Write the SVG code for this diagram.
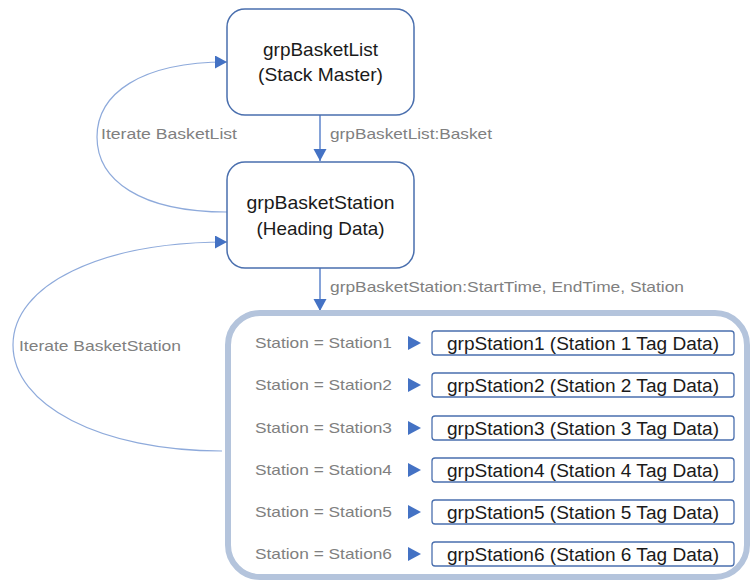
<svg xmlns="http://www.w3.org/2000/svg" width="754" height="583" viewBox="0 0 754 583">
<style>
.box{fill:#fff;stroke:#4a6fae;stroke-width:1.5}
.sbox{fill:#fff;stroke:#4a6fae;stroke-width:1.3}
.t{font-family:"Liberation Sans",Arial,sans-serif;fill:#1a1a1a;text-anchor:middle}
.g{font-family:"Liberation Sans",Arial,sans-serif;fill:#808080;font-size:15px}
.main{stroke:#4472c4;stroke-width:1.3;fill:none}
.loop{stroke:#8eaadb;stroke-width:1.2;fill:none}
.tri{fill:#4472c4}
</style>
<defs>
<marker id="ah" markerUnits="userSpaceOnUse" markerWidth="14" markerHeight="14" refX="12" refY="6.5" orient="auto">
<path d="M0,0 L12,6.5 L0,13 Z" fill="#4472c4"/>
</marker>
</defs>
<g id="connectors">
<line class="main" x1="320" y1="115" x2="320" y2="161" marker-end="url(#ah)"/>
<line class="main" x1="320" y1="268" x2="320" y2="311" marker-end="url(#ah)"/>
<path class="loop" d="M227,212 C140,212 97,180 97,137 C97,94 140,62 227,62" marker-end="url(#ah)"/>
<path class="loop" d="M222,451 C100,451 13,405 13,345 C13,285 100,242 227,242" marker-end="url(#ah)"/>
<text class="g" x="330" y="139" textLength="162" lengthAdjust="spacingAndGlyphs">grpBasketList:Basket</text>
<text class="g" x="101" y="139" textLength="136" lengthAdjust="spacingAndGlyphs">Iterate BasketList</text>
<text class="g" x="19" y="351" textLength="162" lengthAdjust="spacingAndGlyphs">Iterate BasketStation</text>
<text class="g" x="330" y="292" textLength="354" lengthAdjust="spacingAndGlyphs">grpBasketStation:StartTime, EndTime, Station</text>
</g>
<g id="grpBasketList">
<rect class="box" x="227" y="9" width="187" height="106" rx="18"/>
<text class="t" x="320.5" y="56" font-size="19" textLength="115" lengthAdjust="spacingAndGlyphs">grpBasketList</text>
<text class="t" x="320.5" y="81" font-size="19" textLength="125" lengthAdjust="spacingAndGlyphs">(Stack Master)</text>
</g>
<g id="grpBasketStation">
<rect class="box" x="227" y="162" width="187" height="106" rx="18"/>
<text class="t" x="320.5" y="209" font-size="19" textLength="148" lengthAdjust="spacingAndGlyphs">grpBasketStation</text>
<text class="t" x="320.5" y="235" font-size="19" textLength="128" lengthAdjust="spacingAndGlyphs">(Heading Data)</text>
</g>
<g id="stations">
<rect x="228" y="313" width="519" height="264" rx="32" fill="#fff" stroke="#b4c4dc" stroke-width="6"/>
<g id="station1">
<text class="g" x="255" y="348" textLength="137" lengthAdjust="spacingAndGlyphs">Station = Station1</text>
<path class="tri" d="M408,336 L421,343 L408,350 Z"/>
<rect class="sbox" x="432" y="331" width="302" height="24" rx="3"/>
<text class="t" x="583" y="349.5" font-size="18" textLength="272" lengthAdjust="spacingAndGlyphs">grpStation1 (Station 1 Tag Data)</text>
</g>
<g id="station2">
<text class="g" x="255" y="390" textLength="137" lengthAdjust="spacingAndGlyphs">Station = Station2</text>
<path class="tri" d="M408,378 L421,385 L408,392 Z"/>
<rect class="sbox" x="432" y="373" width="302" height="24" rx="3"/>
<text class="t" x="583" y="391.5" font-size="18" textLength="272" lengthAdjust="spacingAndGlyphs">grpStation2 (Station 2 Tag Data)</text>
</g>
<g id="station3">
<text class="g" x="255" y="433" textLength="137" lengthAdjust="spacingAndGlyphs">Station = Station3</text>
<path class="tri" d="M408,421 L421,428 L408,435 Z"/>
<rect class="sbox" x="432" y="416" width="302" height="24" rx="3"/>
<text class="t" x="583" y="434.5" font-size="18" textLength="272" lengthAdjust="spacingAndGlyphs">grpStation3 (Station 3 Tag Data)</text>
</g>
<g id="station4">
<text class="g" x="255" y="475" textLength="137" lengthAdjust="spacingAndGlyphs">Station = Station4</text>
<path class="tri" d="M408,463 L421,470 L408,477 Z"/>
<rect class="sbox" x="432" y="458" width="302" height="24" rx="3"/>
<text class="t" x="583" y="476.5" font-size="18" textLength="272" lengthAdjust="spacingAndGlyphs">grpStation4 (Station 4 Tag Data)</text>
</g>
<g id="station5">
<text class="g" x="255" y="517" textLength="137" lengthAdjust="spacingAndGlyphs">Station = Station5</text>
<path class="tri" d="M408,505 L421,512 L408,519 Z"/>
<rect class="sbox" x="432" y="500" width="302" height="24" rx="3"/>
<text class="t" x="583" y="518.5" font-size="18" textLength="272" lengthAdjust="spacingAndGlyphs">grpStation5 (Station 5 Tag Data)</text>
</g>
<g id="station6">
<text class="g" x="255" y="559" textLength="137" lengthAdjust="spacingAndGlyphs">Station = Station6</text>
<path class="tri" d="M408,547 L421,554 L408,561 Z"/>
<rect class="sbox" x="432" y="542" width="302" height="24" rx="3"/>
<text class="t" x="583" y="560.5" font-size="18" textLength="272" lengthAdjust="spacingAndGlyphs">grpStation6 (Station 6 Tag Data)</text>
</g>
</g>
</svg>
